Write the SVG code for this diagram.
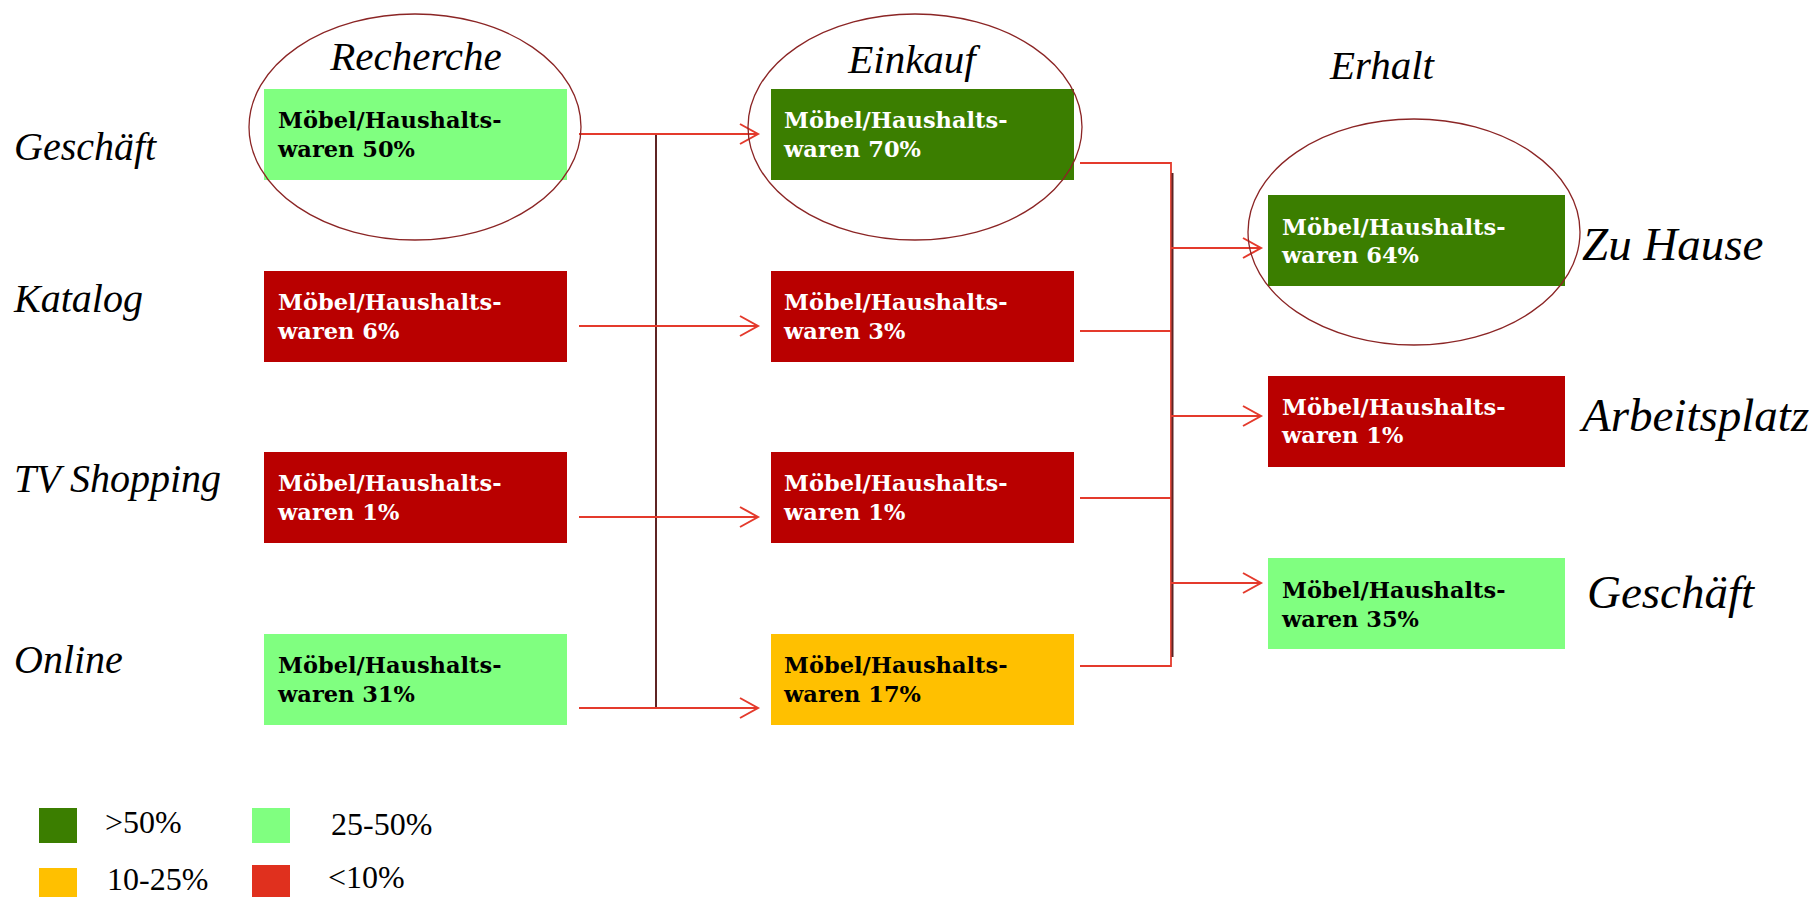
<svg xmlns="http://www.w3.org/2000/svg" width="1819" height="897" viewBox="0 0 1819 897">
  <defs>
    <style>
      .lbl { font-family: "Liberation Serif", "Times New Roman", serif; font-style: italic; fill: #000; }
      .head { font-size: 41px; }
      .side { font-size: 40px; }
      .side-r { font-size: 47px; }
      .box-t { font-family: "DejaVu Serif", "Liberation Serif", serif; font-weight: bold; font-size: 22.5px; }
      .light { fill: #000; }
      .dark { fill: #fff; }
      .ring { fill: none; stroke: #8b2525; stroke-width: 1.3; }
      .wire { fill: none; stroke: #e43a2c; stroke-width: 1.8; }
      .bus { fill: none; stroke: #5e2424; stroke-width: 2; }
      .leg { font-family: "Liberation Serif", "Times New Roman", serif; font-size: 32px; fill: #000; }
    </style>
    <marker id="arrow" markerUnits="userSpaceOnUse" markerWidth="22" markerHeight="24" refX="19" refY="11" orient="auto">
      <path d="M1,1 L19,11 L1,21" fill="none" stroke="#e43a2c" stroke-width="2"/>
    </marker>
  </defs>

  <rect width="1819" height="897" fill="#fff"/>

  <!-- stage headings -->
  <text class="lbl head" x="416" y="70" text-anchor="middle">Recherche</text>
  <text class="lbl head" x="912" y="73" text-anchor="middle">Einkauf</text>
  <text class="lbl head" x="1382" y="79" text-anchor="middle">Erhalt</text>

  <!-- channel labels -->
  <text class="lbl side" x="14" y="160">Geschäft</text>
  <text class="lbl side" x="14" y="312">Katalog</text>
  <text class="lbl side" x="14" y="492">TV Shopping</text>
  <text class="lbl side" x="14" y="673">Online</text>

  <text class="lbl side-r" x="1582" y="260">Zu Hause</text>
  <text class="lbl side-r" x="1582" y="431">Arbeitsplatz</text>
  <text class="lbl side-r" x="1587" y="608">Geschäft</text>

  <!-- connectors -->
  <g id="connectors">
    <line class="bus" x1="656" y1="134" x2="656" y2="708"/>
    <line class="wire" x1="579" y1="134" x2="758" y2="134" marker-end="url(#arrow)"/>
    <line class="wire" x1="579" y1="326" x2="758" y2="326" marker-end="url(#arrow)"/>
    <line class="wire" x1="579" y1="517" x2="758" y2="517" marker-end="url(#arrow)"/>
    <line class="wire" x1="579" y1="708" x2="758" y2="708" marker-end="url(#arrow)"/>

    <polyline class="wire" points="1080,163 1171,163 1171,666 1080,666"/>
    <line class="wire" x1="1080" y1="331" x2="1171" y2="331"/>
    <line class="wire" x1="1080" y1="498" x2="1171" y2="498"/>
    <line class="bus" x1="1172.5" y1="173" x2="1172.5" y2="657"/>
    <line class="wire" x1="1171" y1="248" x2="1261" y2="248" marker-end="url(#arrow)"/>
    <line class="wire" x1="1171" y1="416" x2="1261" y2="416" marker-end="url(#arrow)"/>
    <line class="wire" x1="1171" y1="583" x2="1261" y2="583" marker-end="url(#arrow)"/>
  </g>

  <!-- research column -->
  <g id="r-geschaeft">
    <rect x="264" y="89" width="303" height="91" fill="#80ff80"/>
    <text class="box-t light" x="278" y="128">Möbel/Haushalts-</text>
    <text class="box-t light" x="278" y="157">waren 50%</text>
  </g>
  <g id="r-katalog">
    <rect x="264" y="271" width="303" height="91" fill="#b90000"/>
    <text class="box-t dark" x="278" y="310">Möbel/Haushalts-</text>
    <text class="box-t dark" x="278" y="339">waren 6%</text>
  </g>
  <g id="r-tv">
    <rect x="264" y="452" width="303" height="91" fill="#b90000"/>
    <text class="box-t dark" x="278" y="491">Möbel/Haushalts-</text>
    <text class="box-t dark" x="278" y="520">waren 1%</text>
  </g>
  <g id="r-online">
    <rect x="264" y="634" width="303" height="91" fill="#80ff80"/>
    <text class="box-t light" x="278" y="673">Möbel/Haushalts-</text>
    <text class="box-t light" x="278" y="702">waren 31%</text>
  </g>

  <!-- purchase column -->
  <g id="e-geschaeft">
    <rect x="771" y="89" width="303" height="91" fill="#3b7e00"/>
    <text class="box-t dark" x="784" y="128">Möbel/Haushalts-</text>
    <text class="box-t dark" x="784" y="157">waren 70%</text>
  </g>
  <g id="e-katalog">
    <rect x="771" y="271" width="303" height="91" fill="#b90000"/>
    <text class="box-t dark" x="784" y="310">Möbel/Haushalts-</text>
    <text class="box-t dark" x="784" y="339">waren 3%</text>
  </g>
  <g id="e-tv">
    <rect x="771" y="452" width="303" height="91" fill="#b90000"/>
    <text class="box-t dark" x="784" y="491">Möbel/Haushalts-</text>
    <text class="box-t dark" x="784" y="520">waren 1%</text>
  </g>
  <g id="e-online">
    <rect x="771" y="634" width="303" height="91" fill="#ffc000"/>
    <text class="box-t light" x="784" y="673">Möbel/Haushalts-</text>
    <text class="box-t light" x="784" y="702">waren 17%</text>
  </g>

  <!-- receipt column -->
  <g id="h-zuhause">
    <rect x="1268" y="195" width="297" height="91" fill="#3b7e00"/>
    <text class="box-t dark" x="1282" y="235">Möbel/Haushalts-</text>
    <text class="box-t dark" x="1282" y="263">waren 64%</text>
  </g>
  <g id="h-arbeit">
    <rect x="1268" y="376" width="297" height="91" fill="#b90000"/>
    <text class="box-t dark" x="1282" y="415">Möbel/Haushalts-</text>
    <text class="box-t dark" x="1282" y="443">waren 1%</text>
  </g>
  <g id="h-geschaeft">
    <rect x="1268" y="558" width="297" height="91" fill="#80ff80"/>
    <text class="box-t light" x="1282" y="598">Möbel/Haushalts-</text>
    <text class="box-t light" x="1282" y="627">waren 35%</text>
  </g>

  <!-- highlight rings -->
  <ellipse class="ring" cx="415" cy="127" rx="166" ry="113"/>
  <ellipse class="ring" cx="915" cy="127" rx="167" ry="113"/>
  <ellipse class="ring" cx="1414" cy="232" rx="166" ry="113"/>

  <!-- legend -->
  <g id="legend">
    <rect x="39" y="808" width="38" height="35" fill="#3b7e00"/>
    <text class="leg" x="105" y="833">&gt;50%</text>
    <rect x="252" y="808" width="38" height="35" fill="#80ff80"/>
    <text class="leg" x="331" y="835">25-50%</text>
    <rect x="39" y="868" width="38" height="29" fill="#ffc000"/>
    <text class="leg" x="107" y="890">10-25%</text>
    <rect x="252" y="865" width="38" height="32" fill="#e0301e"/>
    <text class="leg" x="328" y="888">&lt;10%</text>
  </g>
</svg>
